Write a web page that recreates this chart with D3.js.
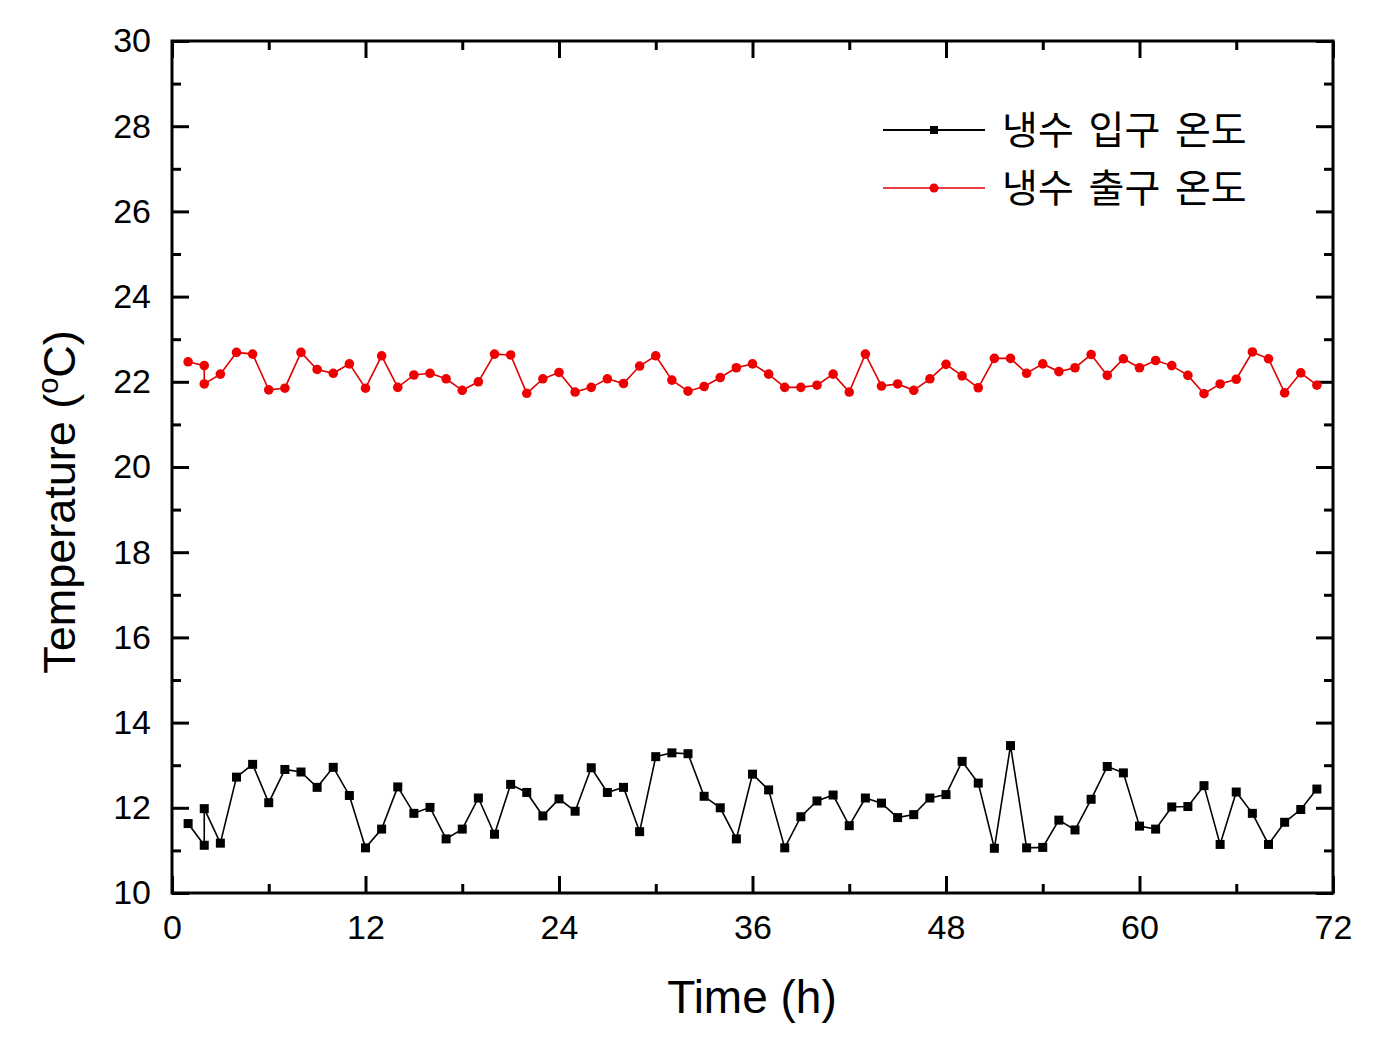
<!DOCTYPE html>
<html>
<head>
<meta charset="utf-8">
<script src="https://cdn.jsdelivr.net/npm/d3@7"></script>
<style>
  body { margin: 0; background: #fff; }
  svg { display: block; }
  text { font-family: "Liberation Sans", Arial, sans-serif; fill: #000; }
  .kr { font-family: "Noto Sans CJK KR", sans-serif; }
</style>
</head>
<body>
<svg id="chart" width="1380" height="1037"></svg>
<script>
// ---- data ----
const times = [1,2,2,3,4,5,6,7,8,9,10,11,12,13,14,15,16,17,18,19,20,21,22,23,24,25,26,27,28,29,30,31,32,33,34,35,36,37,38,39,40,41,42,43,44,45,46,47,48,49,50,51,52,53,54,55,56,57,58,59,60,61,62,63,64,65,66,67,68,69,70,71];
const inletTemp = [11.63,11.12,11.98,11.17,12.72,13.02,12.12,12.90,12.84,12.48,12.95,12.29,11.06,11.50,12.49,11.87,12.01,11.27,11.50,12.23,11.38,12.55,12.36,11.81,12.21,11.92,12.94,12.36,12.48,11.44,13.20,13.29,13.27,12.27,12.00,11.27,12.79,12.42,11.06,11.79,12.16,12.30,11.58,12.23,12.11,11.77,11.84,12.23,12.31,13.09,12.58,11.05,13.46,11.06,11.07,11.71,11.48,12.20,12.97,12.82,11.57,11.50,12.02,12.03,12.52,11.14,12.37,11.87,11.14,11.66,11.96,12.44];
const outletTemp = [22.47,22.38,21.95,22.18,22.69,22.65,21.81,21.85,22.69,22.29,22.20,22.42,21.85,22.61,21.87,22.16,22.20,22.07,21.80,22.00,22.65,22.63,21.73,22.07,22.22,21.76,21.87,22.07,21.96,22.37,22.61,22.04,21.78,21.89,22.10,22.33,22.42,22.18,21.87,21.87,21.92,22.18,21.76,22.65,21.90,21.95,21.80,22.07,22.41,22.14,21.86,22.55,22.55,22.20,22.42,22.24,22.33,22.64,22.15,22.54,22.33,22.50,22.38,22.15,21.72,21.95,22.06,22.70,22.54,21.74,22.21,21.92];
const seriesNames = ["냉수 입구 온도", "냉수 출구 온도"];
const xMajorTicks = [0,12,24,36,48,60,72];
const xMinorTicks = [6,18,30,42,54,66];
const yMajorTicks = [10,12,14,16,18,20,22,24,26,28,30];
const yMinorTicks = [11,13,15,17,19,21,23,25,27,29];
const xTitle = "Time (h)";

// ---- layout ----
const L = 172, R = 1333, T = 41, B = 893;
const svg = d3.select("#chart");
const x = d3.scaleLinear().domain([0, 72]).range([L, R]);
const y = d3.scaleLinear().domain([10, 30]).range([B, T]);

function styleAxis(g) {
  g.select(".domain").remove();
  g.selectAll(".tick line").attr("stroke", "#000").attr("stroke-width", 3);
}

// bottom
svg.append("g").attr("transform", `translate(0,${B})`)
  .call(d3.axisBottom(x).tickValues(xMajorTicks).tickSize(-17).tickPadding(22).tickFormat(d3.format("d")))
  .call(styleAxis)
  .call(g => g.selectAll("text").attr("font-size", 34).attr("font-family", "Liberation Sans, Arial, sans-serif"));
svg.append("g").attr("transform", `translate(0,${B})`)
  .call(d3.axisBottom(x).tickValues(xMinorTicks).tickSize(-9).tickFormat(""))
  .call(styleAxis);
// top
svg.append("g").attr("transform", `translate(0,${T})`)
  .call(d3.axisTop(x).tickValues(xMajorTicks).tickSize(-17).tickFormat(""))
  .call(styleAxis);
svg.append("g").attr("transform", `translate(0,${T})`)
  .call(d3.axisTop(x).tickValues(xMinorTicks).tickSize(-9).tickFormat(""))
  .call(styleAxis);
// left
svg.append("g").attr("transform", `translate(${L},0)`)
  .call(d3.axisLeft(y).tickValues(yMajorTicks).tickSize(-17).tickPadding(21).tickFormat(d3.format("d")))
  .call(styleAxis)
  .call(g => g.selectAll("text").attr("font-size", 34).attr("font-family", "Liberation Sans, Arial, sans-serif"));
svg.append("g").attr("transform", `translate(${L},0)`)
  .call(d3.axisLeft(y).tickValues(yMinorTicks).tickSize(-9).tickFormat(""))
  .call(styleAxis);
// right
svg.append("g").attr("transform", `translate(${R},0)`)
  .call(d3.axisRight(y).tickValues(yMajorTicks).tickSize(-17).tickFormat(""))
  .call(styleAxis);
svg.append("g").attr("transform", `translate(${R},0)`)
  .call(d3.axisRight(y).tickValues(yMinorTicks).tickSize(-9).tickFormat(""))
  .call(styleAxis);

// frame
svg.append("rect").attr("x", L).attr("y", T).attr("width", R - L).attr("height", B - T)
  .attr("fill", "none").attr("stroke", "#000").attr("stroke-width", 3);

// series
const inlet = times.map((t, i) => [t, inletTemp[i]]);
const outlet = times.map((t, i) => [t, outletTemp[i]]);
const line = d3.line().x(d => x(d[0])).y(d => y(d[1]));

svg.append("path").datum(inlet).attr("d", line)
  .attr("fill", "none").attr("stroke", "#000").attr("stroke-width", 1.6);
svg.append("g").selectAll("rect").data(inlet).join("rect")
  .attr("x", d => x(d[0]) - 4.5).attr("y", d => y(d[1]) - 4.5)
  .attr("width", 9).attr("height", 9).attr("fill", "#000");

svg.append("path").datum(outlet).attr("d", line)
  .attr("fill", "none").attr("stroke", "#e00000").attr("stroke-width", 1.6);
svg.append("g").selectAll("circle").data(outlet).join("circle")
  .attr("cx", d => x(d[0])).attr("cy", d => y(d[1])).attr("r", 4.8).attr("fill", "#ee0000");

// legend
const lg = svg.append("g");
const legY = [130, 188];
const legColors = ["#000", "#e00000"];
seriesNames.forEach((name, i) => {
  lg.append("line").attr("x1", 883).attr("x2", 985).attr("y1", legY[i]).attr("y2", legY[i])
    .attr("stroke", legColors[i]).attr("stroke-width", i === 0 ? 2 : 1.4);
  if (i === 0) {
    lg.append("rect").attr("x", 934 - 4).attr("y", legY[i] - 4).attr("width", 8).attr("height", 8).attr("fill", "#000");
  } else {
    lg.append("circle").attr("cx", 934).attr("cy", legY[i]).attr("r", 4.5).attr("fill", "#ee0000");
  }
  lg.append("text").attr("class", "kr").attr("x", 1002).attr("y", legY[i])
    .attr("dy", "0.36em").attr("font-size", 39).attr("word-spacing", 6).text(name);
});

// axis titles
svg.append("text").attr("x", 752).attr("y", 1013)
  .attr("text-anchor", "middle").attr("font-size", 46).text(xTitle);

const yt = svg.append("text")
  .attr("transform", `translate(75,502) rotate(-90)`)
  .attr("text-anchor", "middle").attr("font-size", 45);
yt.append("tspan").text("Temperature (");
yt.append("tspan").attr("font-size", 29).attr("dy", -17).text("o");
yt.append("tspan").attr("dy", 17).text("C)");
</script>
</body>
</html>
